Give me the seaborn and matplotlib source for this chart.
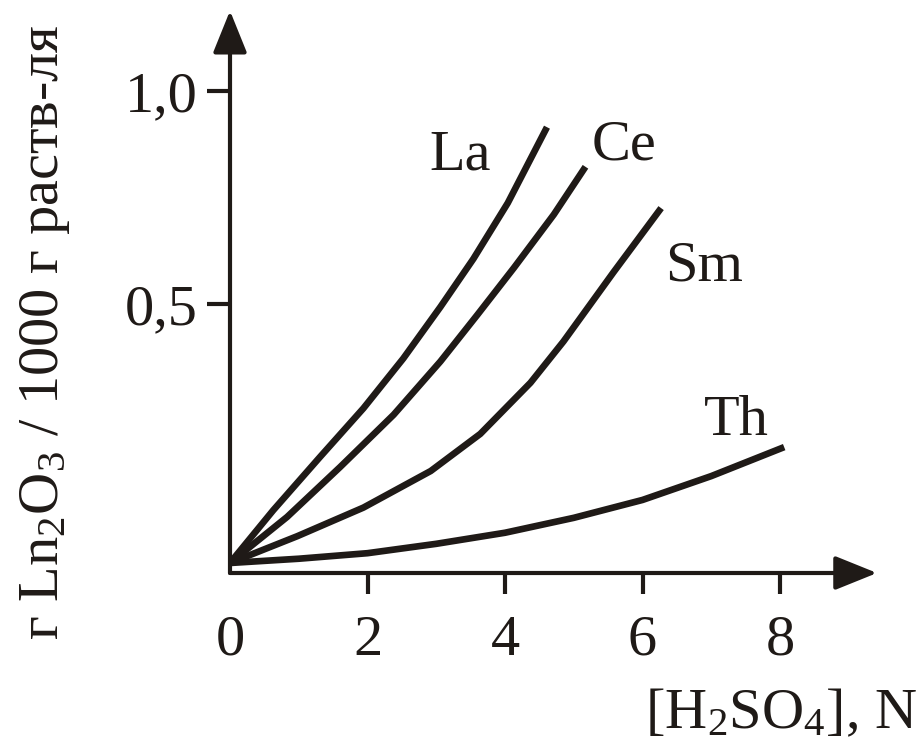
import numpy as np
import pandas as pd
import matplotlib
matplotlib.use("Agg")
import matplotlib.pyplot as plt
import seaborn as sns

# ---- data ----
la_x = [0.0, 0.63, 1.31, 1.94, 2.52, 3.06, 3.54, 4.04, 4.61]
la_y = [-0.108, 0.016, 0.141, 0.255, 0.372, 0.493, 0.606, 0.737, 0.915]

ce_x = [0.0, 0.83, 1.60, 2.38, 3.06, 3.60, 4.13, 4.71, 5.17]
ce_y = [-0.108, 0.0, 0.117, 0.240, 0.365, 0.475, 0.585, 0.710, 0.822]

sm_x = [0.0, 0.98, 1.94, 2.92, 3.64, 4.37, 4.85, 5.58, 6.27]
sm_y = [-0.108, -0.045, 0.022, 0.108, 0.195, 0.315, 0.412, 0.575, 0.725]

th_x = [0.0, 1.0, 2.0, 3.0, 4.0, 5.0, 6.0, 7.0, 8.06]
th_y = [-0.108, -0.098, -0.085, -0.063, -0.037, -0.002, 0.040, 0.096, 0.164]

series_names = ["La", "Ce", "Sm", "Th"]
label_x = [3.35, 5.73, 6.90, 7.37]
label_y = [0.815, 0.838, 0.556, 0.192]

x_ticks = [0, 2, 4, 6, 8]
x_tick_labels = ["0", "2", "4", "6", "8"]
y_ticks = [0.5, 1.0]
y_tick_labels = ["0,5", "1,0"]

xlabel = "[H$_2$SO$_4$], N"
ylabel = "г Ln$_2$O$_3$ / 1000 г раств-ля"

frames = []
for name, xs, ys in zip(series_names, [la_x, ce_x, sm_x, th_x], [la_y, ce_y, sm_y, th_y]):
    frames.append(pd.DataFrame({"c": xs, "s": ys, "el": name}))
df = pd.concat(frames, ignore_index=True)

sns.set_style("white")
plt.rcParams["font.family"] = ["Liberation Serif", "DejaVu Serif"]
plt.rcParams["mathtext.fontset"] = "custom"
plt.rcParams["mathtext.rm"] = "Liberation Serif"
plt.rcParams["mathtext.it"] = "Liberation Serif:italic"
plt.rcParams["mathtext.default"] = "rm"

W, H = 921, 741
fig = plt.figure(figsize=(W / 100, H / 100), dpi=100)
ax = fig.add_axes([230 / W, 168 / H, 647 / W, 560 / H])

ink = "#1f1a17"
sns.lineplot(data=df, x="c", y="s", hue="el", units="el", estimator=None, sort=False,
             palette={n: ink for n in series_names}, legend=False, lw=4.8, ax=ax)
for ln in ax.get_lines():
    ln.set_solid_capstyle("butt")
    ln.set_solid_joinstyle("round")

ax.set_xlim(0, 9.41)
ax.set_ylim(-0.1315, 1.183)
for sp in ax.spines.values():
    sp.set_visible(False)

ax.set_xticks(x_ticks)
ax.set_xticklabels(x_tick_labels)
ax.set_yticks(y_ticks)
ax.set_yticklabels(y_tick_labels)
ax.tick_params(axis="x", direction="out", length=15, width=3, pad=15, labelsize=42, colors=ink, bottom=True)
ax.tick_params(axis="y", direction="out", length=16.5, width=3, pad=7, labelsize=42, colors=ink, left=True)
ax.xaxis.get_major_ticks()[0].tick1line.set_visible(False)
ax.set_xlabel("")
ax.set_ylabel("")

# axes with arrows
arrow_kw = dict(arrowstyle="-|>,head_length=2.6,head_width=1.05", mutation_scale=10,
                color=ink, lw=3, shrinkA=0, shrinkB=0)
ax.annotate("", xy=(1, 0), xytext=(0, 0), xycoords="axes fraction", textcoords="axes fraction",
            arrowprops=arrow_kw, annotation_clip=False)
ax.annotate("", xy=(0, 1.004), xytext=(0, 0), xycoords="axes fraction", textcoords="axes fraction",
            arrowprops=arrow_kw, annotation_clip=False)

for name, lx, ly in zip(series_names, label_x, label_y):
    ax.text(lx, ly, name, ha="center", va="baseline", fontsize=42, color=ink)

fig.text(917 / W, 1 - 728 / H, xlabel, ha="right", va="baseline", fontsize=42, color=ink)
fig.text(45 / W, 1 - 332 / H, ylabel, ha="center", va="center", rotation=90, fontsize=42, color=ink)

fig.savefig("out.png", dpi=100)
